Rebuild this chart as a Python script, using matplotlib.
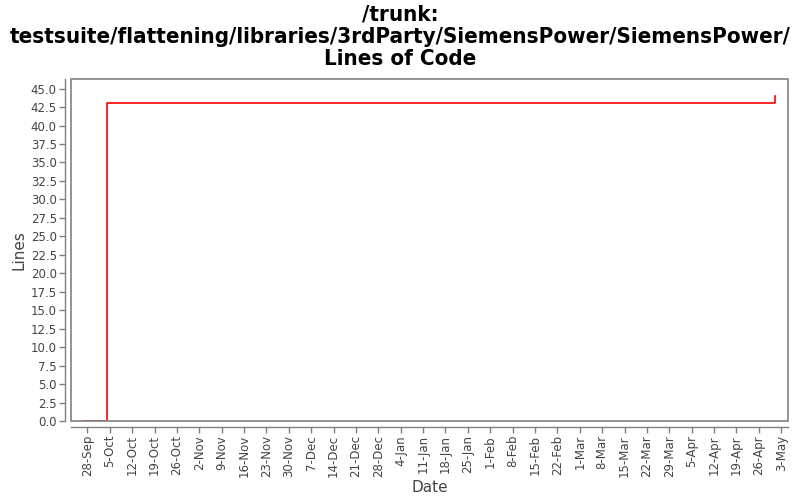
import matplotlib
matplotlib.use("Agg")
import matplotlib.pyplot as plt
import matplotlib.dates as mdates
from matplotlib.patches import Rectangle
import datetime as dt

# data
dates = [dt.datetime(2008, 9, 27), dt.datetime(2008, 10, 4), dt.datetime(2009, 5, 1)]
lines = [0, 43, 44]
title = "/trunk:\ntestsuite/flattening/libraries/3rdParty/SiemensPower/SiemensPower/\nLines of Code"

fig = plt.figure(figsize=(8, 5), dpi=100)
ax = fig.add_axes([70.7/800, 1-421/500, (788-70.7)/800, (421-79)/500])

ax.plot(dates, lines, drawstyle="steps-post", color="#ff0000", lw=1.2, zorder=2)

ax.set_xlim(dt.datetime(2008, 9, 22, 19), dt.datetime(2009, 5, 5, 3))
ax.set_ylim(0, 46.3)
ax.set_yticks([i*2.5 for i in range(19)])
ax.yaxis.set_major_formatter(matplotlib.ticker.FormatStrFormatter("%.1f"))
ax.xaxis.set_major_locator(mdates.WeekdayLocator(byweekday=mdates.SU))
ax.xaxis.set_major_formatter(mdates.DateFormatter("%-d-%b"))

gray = "#808080"
for s in ["top", "right"]:
    ax.spines[s].set_visible(False)
for s in ["left", "bottom"]:
    ax.spines[s].set_position(("outward", 4))
    ax.spines[s].set_color(gray)
    ax.spines[s].set_linewidth(1.0)
ax.add_patch(Rectangle((0, 0), 1, 1, transform=ax.transAxes, fill=False,
                       edgecolor=gray, lw=1.2, clip_on=False, zorder=3))

ax.tick_params(axis="both", colors=gray, length=4, width=1, labelsize=8.5,
               labelcolor="#444444", pad=2)
plt.setp(ax.get_xticklabels(), rotation=90, ha="center", va="top")

ax.set_xlabel("Date", fontsize=11, color="#444444", labelpad=2)
ax.set_ylabel("Lines", fontsize=11, color="#444444", labelpad=3)

fig.suptitle(title, fontsize=16, fontweight="bold", fontstretch="condensed",
             y=0.99, va="top", linespacing=1.12)

fig.savefig("out.png", dpi=100)
